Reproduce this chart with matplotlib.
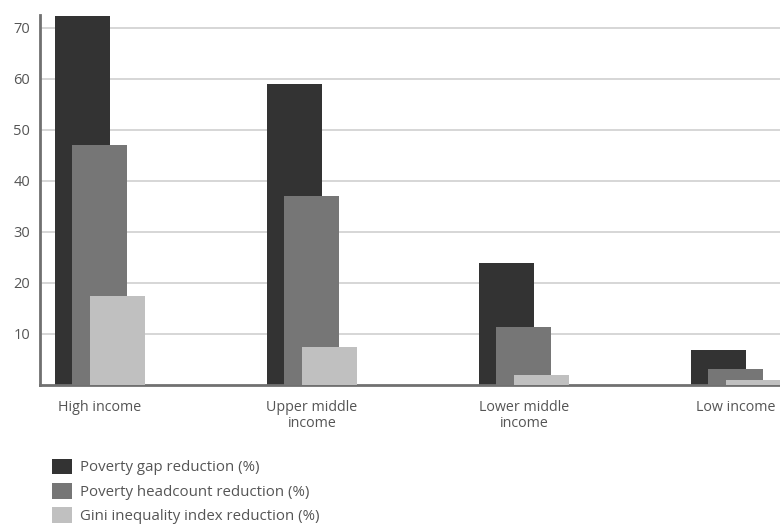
import matplotlib.pyplot as plt
import numpy as np
from matplotlib.patches import Patch

grupos = ["High income", "Upper middle\nincome", "Lower middle\nincome", "Low income"]
series = [
    "Poverty gap reduction (%)",
    "Poverty headcount reduction (%)",
    "Gini inequality index reduction (%)",
]
gap = [72.3, 59.0, 24.0, 6.9]
headcount = [47.0, 37.0, 11.4, 3.2]
gini = [17.5, 7.5, 1.9, 1.0]
y_ticks = [10, 20, 30, 40, 50, 60, 70]

cores = ["#333333", "#767676", "#c0c0c0"]
cor_texto = "#555555"

plt.rcParams["font.family"] = ["Open Sans", "DejaVu Sans"]

fig = plt.figure(figsize=(7.8, 5.24), dpi=100)
ax = fig.add_axes([40 / 780, (524 - 385) / 524, 1 - 40 / 780, (385 - 15) / 524])

x = np.arange(len(grupos))
largura = 0.26
passo = 0.082

for i, (valores, cor) in enumerate(zip([gap, headcount, gini], cores)):
    ax.bar(x + i * passo, valores, width=largura, color=cor, zorder=2 + i)

ax.set_xlim(-0.2, 3.29)
ax.set_ylim(0, 72.5)
ax.set_yticks(y_ticks)
ax.set_yticklabels([str(t) for t in y_ticks], fontsize=10.5, color=cor_texto)
ax.yaxis.grid(True, color="#cfcfcf", linewidth=1.2, zorder=0)
ax.set_axisbelow(True)

ax.set_xticks(x + passo)
ax.set_xticklabels(grupos, fontsize=10.3, color=cor_texto, linespacing=1.05)
ax.tick_params(axis="both", length=0, pad=7)
ax.tick_params(axis="x", pad=11)

for lado in ["top", "right"]:
    ax.spines[lado].set_visible(False)
for lado in ["left", "bottom"]:
    ax.spines[lado].set_color("#707070")
    ax.spines[lado].set_linewidth(2)

handles = [Patch(facecolor=c, edgecolor="none") for c in cores]
fig.legend(
    handles,
    series,
    loc="upper left",
    bbox_to_anchor=(38 / 780, 1 - 445 / 524),
    frameon=False,
    fontsize=10.8,
    labelcolor=cor_texto,
    handlelength=1.35,
    handleheight=1.25,
    handletextpad=0.55,
    labelspacing=0.5,
)

fig.savefig("out.png", dpi=100)
